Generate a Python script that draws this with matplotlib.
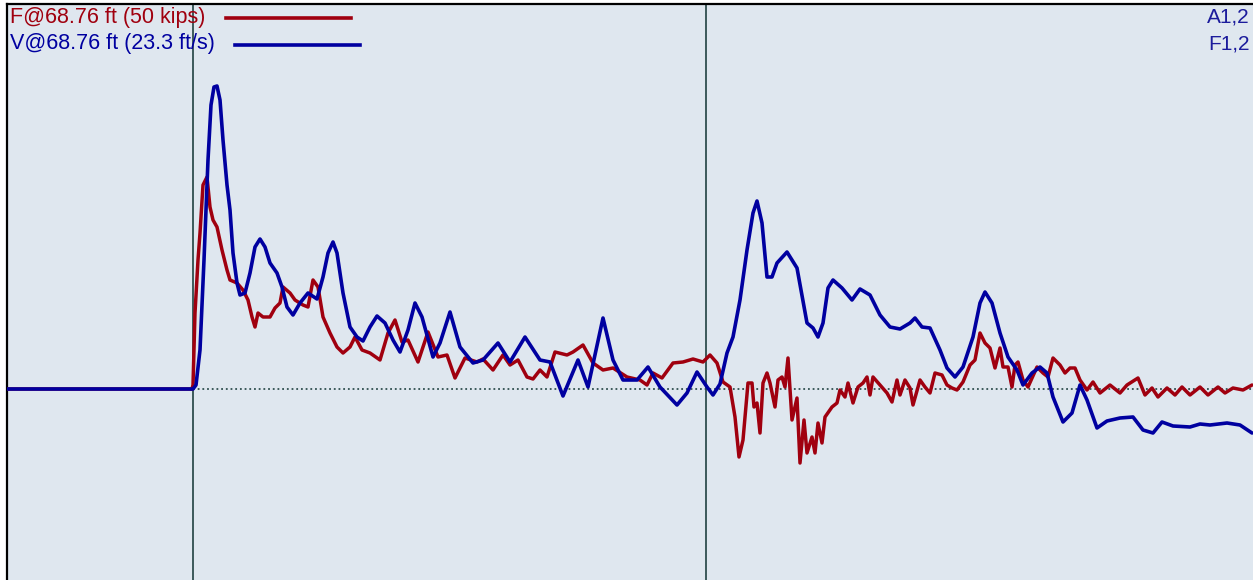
import matplotlib
matplotlib.use("Agg")
import matplotlib.pyplot as plt

# time in samples (0 = impact, 513 = 2L/c), amplitudes in kips (velocity shown as Z*V)
v_t = [-186, 0, 3, 7, 11, 15, 18, 21, 24, 27, 30, 34, 37, 40, 44, 47, 52, 57, 62, 67, 72, 77, 84, 89, 94,
       100, 107, 115, 124, 130, 135, 140, 144, 150, 157, 164, 170, 177, 184, 192, 200, 207, 215, 222, 229,
       240, 247, 257, 267, 280, 290, 305, 317, 332, 347, 357, 370, 385, 395, 410, 420, 430, 444, 455, 467,
       484, 494, 504, 514, 520, 527, 534, 540, 547, 554, 560, 564, 569, 574, 579, 584, 594, 604, 614, 620,
       625, 630, 635, 640, 649, 659, 667, 677, 687, 697, 707, 717, 722, 729, 737, 747, 754, 762, 770, 780,
       787, 792, 799, 807, 815, 824, 830, 839, 847, 854, 860, 870, 879, 887, 894, 904, 914, 927, 940, 950,
       960, 969, 980, 997, 1007, 1017, 1034, 1047, 1059]
v_val = [0, 0, 2, 19.5, 64.5, 114.5, 142, 151, 151.5, 144.5, 124.5, 102, 89.5, 68, 53, 47, 48, 58, 71, 75,
         71, 63, 58, 51, 41, 37, 43, 48, 45, 56, 68, 73.5, 68, 48, 31, 26, 24, 31, 36.5, 33, 24.5, 18.5,
         29.5, 43, 36, 16, 23, 38.5, 21, 13, 14.5, 23, 13.5, 26, 14.5, 13.5, -3.5, 14.5, 1, 35.5, 14.5, 4.5,
         4.5, 11, 1, -8, -2, 8.5, 1, -3, 2.5, 18, 26, 44.5, 69.5, 88, 94, 83, 56, 56, 63, 68.5, 60.5, 33,
         30.5, 26, 33, 50.5, 54.5, 50.5, 44.5, 50, 47, 37, 31, 30, 33, 35.5, 31, 30.5, 19.5, 10.5, 6, 11,
         26, 43, 48.5, 43, 28, 16, 9.5, 2, 8, 11, 8, -4, -16.5, -12, 2, -5.5, -19.5, -16, -14.5, -14,
         -20.5, -22, -16.5, -18.5, -19, -17.5, -18, -17, -18, -22]

f_t = [-186, -1, 0, 2, 5, 7, 10, 14, 17, 20, 24, 29, 34, 37, 44, 50, 55, 59, 62, 65, 70, 77, 82, 87, 90,
       97, 102, 110, 115, 120, 125, 130, 137, 144, 150, 157, 162, 169, 177, 187, 195, 202, 209, 215, 225,
       235, 245, 254, 262, 272, 284, 290, 300, 310, 317, 325, 334, 340, 347, 354, 362, 374, 380, 390, 400,
       410, 420, 434, 447, 454, 460, 469, 480, 490, 500, 510, 517, 524, 530, 537, 542, 546, 550, 555, 559,
       561, 564, 567, 570, 574, 577, 582, 585, 589, 592, 595, 599, 604, 607, 611, 614, 619, 622, 625, 629,
       632, 639, 644, 647, 652, 655, 660, 665, 670, 674, 677, 680, 687, 694, 699, 704, 707, 712, 717, 720,
       727, 732, 737, 742, 749, 754, 759, 764, 770, 777, 782, 787, 792, 797, 802, 807, 810, 815, 819, 822,
       825, 830, 835, 844, 850, 855, 860, 867, 872, 877, 882, 887, 894, 900, 907, 917, 927, 934, 945, 952,
       959, 965, 974, 982, 989, 997, 1007, 1015, 1025, 1032, 1040, 1050, 1059]
f_val = [0, 0, 2, 38, 64.5, 78, 102, 106, 91, 84.5, 81, 69.5, 59.5, 54.5, 53, 49.5, 44.5, 36, 31, 38, 36,
         36, 40.5, 43, 51, 48, 44.5, 42, 41, 54.5, 51, 36, 28, 21, 18, 21, 26, 19.5, 18, 14.5, 28, 34.5,
         23.5, 24.5, 13.5, 28.5, 16, 17, 5.5, 15.5, 13.5, 15, 9.5, 17, 12, 14.5, 6, 5, 9.5, 6, 18.5, 17,
         18.5, 22, 13, 9.5, 10.5, 6, 4.5, 2, 8, 5.5, 13, 13.5, 15, 13.5, 17, 13, 3.5, 1, -14, -34, -25.5,
         3, 3, -9, -7, -22, 3, 8, 3, -9, 4.5, 6, 1, 15.5, -15.5, -4.5, -37, -15.5, -32, -24, -32, -17, -27,
         -14, -9, -7, -0.5, -4, 3, -7, 1, 3, 6, -3, 6, 2, -2, -6.5, 4.5, -3, 4.5, 0.5, -8, 4.5, 1, -2, 8,
         7, 2, 0.5, -0.5, 3.5, 12, 14.5, 28, 23, 20.5, 10.5, 20.5, 11, 11, 1, 12, 13.5, 4.5, 1, 11, 8, 6,
         15.5, 12, 8, 10.5, 10.5, 4.5, -0.5, 3.5, -2, 2, -2, 2, 5.5, -3, 0.5, -4, 0.5, -3, 1, -3, 1, -3,
         1, -2, 0.5, -0.5, 2]

markers_t = [0, 513]
legend_labels = ["F@68.76 ft (50 kips)", "V@68.76 ft (23.3 ft/s)"]
right_labels = ["A1,2", "F1,2"]

RED = "#a0000f"
BLUE = "#0000a0"
GRID = "#2f4f4f"

W, H = 1253, 580
fig = plt.figure(figsize=(W / 100, H / 100), dpi=100, facecolor="white")
ax = fig.add_axes([7 / W, 0, (W - 7) / W, (H - 4) / H])
ax.set_facecolor("#dfe7ef")
ax.set_xlim(-186, 1060)
ax.set_ylim(-95.5, 192.5)
for s in ("right", "bottom"):
    ax.spines[s].set_visible(False)
for s in ("left", "top"):
    ax.spines[s].set_linewidth(1.6)
    ax.spines[s].set_color("black")
ax.set_xticks([])
ax.set_yticks([])

ax.plot([0, 1060], [0, 0], color=GRID, lw=1.3, ls=(0, (1, 1.6)), zorder=1)
for m in markers_t:
    ax.axvline(m, color=GRID, lw=1.3, zorder=1)

ax.plot(f_t, f_val, color=RED, lw=2.5, zorder=3, solid_joinstyle="round", solid_capstyle="round")
ax.plot(v_t, v_val, color=BLUE, lw=2.6, zorder=4, solid_joinstyle="round", solid_capstyle="round")

fam = ["Liberation Sans", "DejaVu Sans"]
fig.text(10 / W, 1 - 17 / H, legend_labels[0], color=RED, va="center", ha="left", family=fam, fontsize=15.5)
fig.text(10 / W, 1 - 44 / H, legend_labels[1], color=BLUE, va="center", ha="left", family=fam, fontsize=15.5)
fig.add_artist(plt.Line2D([226 / W, 351 / W], [1 - 18 / H, 1 - 18 / H], color=RED, lw=2.6))
fig.add_artist(plt.Line2D([235 / W, 360 / W], [1 - 45 / H, 1 - 45 / H], color=BLUE, lw=2.6))
fig.text(1250 / W, 1 - 17 / H, right_labels[0], color="#1c1c9c", va="center", ha="right", family=fam, fontsize=15)
fig.text(1250 / W, 1 - 44 / H, right_labels[1], color="#1c1c9c", va="center", ha="right", family=fam, fontsize=15)

fig.savefig("out.png", dpi=100, facecolor="white")
